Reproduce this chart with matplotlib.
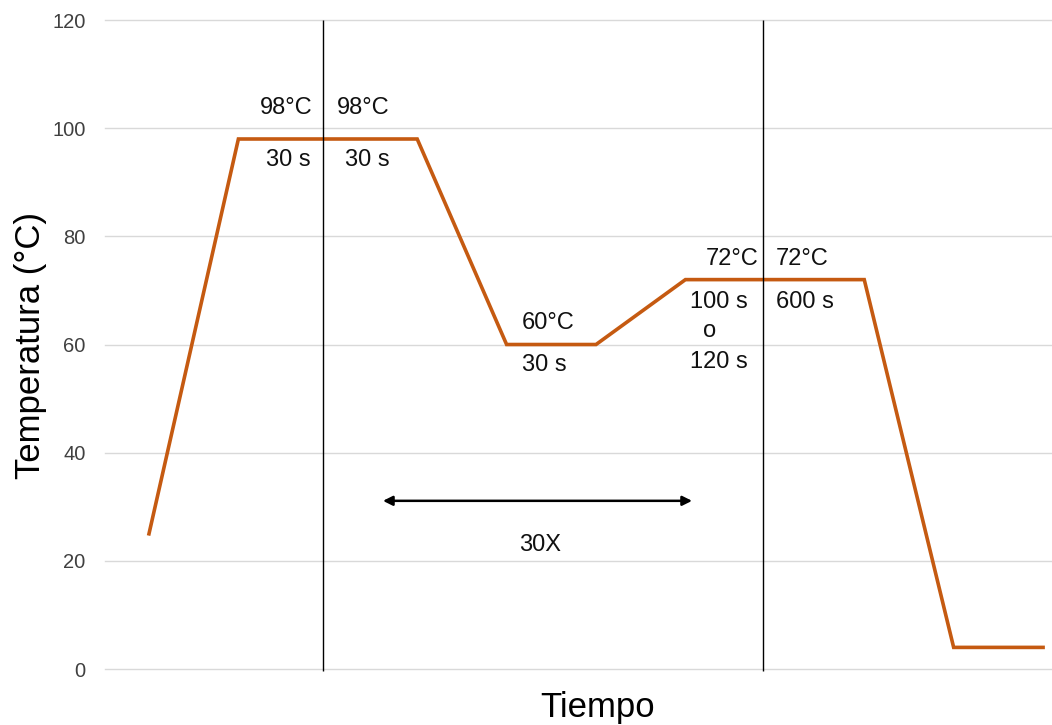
import matplotlib
matplotlib.use("Agg")
import matplotlib.pyplot as plt

plt.rcParams['font.family'] = ['Liberation Sans', 'DejaVu Sans']

# Perfil de temperatura (posiciones en el eje del tiempo, sin unidades)
tiempo = [0, 1, 3, 4, 5, 6, 8, 9, 10]
temperatura = [25, 98, 98, 60, 60, 72, 72, 4, 4]

# lineas verticales que separan las etapas
separadores = [1.946, 6.868]

# etiquetas: (x, y, texto, alineacion)
etiquetas = [
    (1.834, 103.7, "98°C", "right"),
    (1.812, 94.1, "30 s", "right"),
    (2.103, 103.7, "98°C", "left"),
    (2.192, 94.1, "30 s", "left"),
    (4.172, 64.0, "60°C", "left"),
    (4.172, 56.2, "30 s", "left"),
    (6.812, 75.8, "72°C", "right"),
    (6.700, 67.9, "100 s", "right"),
    (6.275, 62.5, "o", "center"),
    (6.700, 56.8, "120 s", "right"),
    (7.013, 75.8, "72°C", "left"),
    (7.013, 67.9, "600 s", "left"),
]

# flecha de los ciclos
flecha_x = [2.617, 6.074]
flecha_y = 31.1
ciclos = (4.374, 22.9, "30X")

fig = plt.figure(figsize=(10.52, 7.25), dpi=100)
ax = fig.add_axes([0.0998, 0.0772, 0.9002, 0.8952])

ax.plot(tiempo, temperatura, color='#C55A11', linewidth=2.6, solid_joinstyle='miter')

for xs in separadores:
    ax.vlines(xs, -0.4, 120, color='black', linewidth=1, clip_on=False)

for x, y, txt, ha in etiquetas:
    ax.text(x, y, txt, ha=ha, va='center', fontsize=17, color='#111111')

ax.annotate('', xy=(flecha_x[1], flecha_y), xytext=(flecha_x[0], flecha_y),
            arrowprops=dict(arrowstyle='<|-|>', color='black', lw=1.8,
                            mutation_scale=14, shrinkA=0, shrinkB=0))
ax.text(ciclos[0], ciclos[1], ciclos[2], ha='center', va='center', fontsize=17, color='#111111')

ax.set_xlim(-0.492, 10.10)
ax.set_ylim(0, 120)
ax.set_yticks(range(0, 121, 20))
ax.set_xticks([])
ax.tick_params(axis='y', length=0, pad=14, labelsize=14.5, labelcolor='#404040')
ax.grid(axis='y', color='#D9D9D9', linewidth=1)
ax.set_axisbelow(True)
for gl in ax.get_ygridlines():
    gl.set_clip_on(False)
for s in ax.spines.values():
    s.set_visible(False)

ax.set_xlabel("Tiempo", fontsize=25)
ax.xaxis.set_label_coords(0.52, -0.034)
ax.set_ylabel("Temperatura (°C)", fontsize=25)
ax.yaxis.set_label_coords(-0.061, 0.499)

fig.savefig("out.png", dpi=100)
